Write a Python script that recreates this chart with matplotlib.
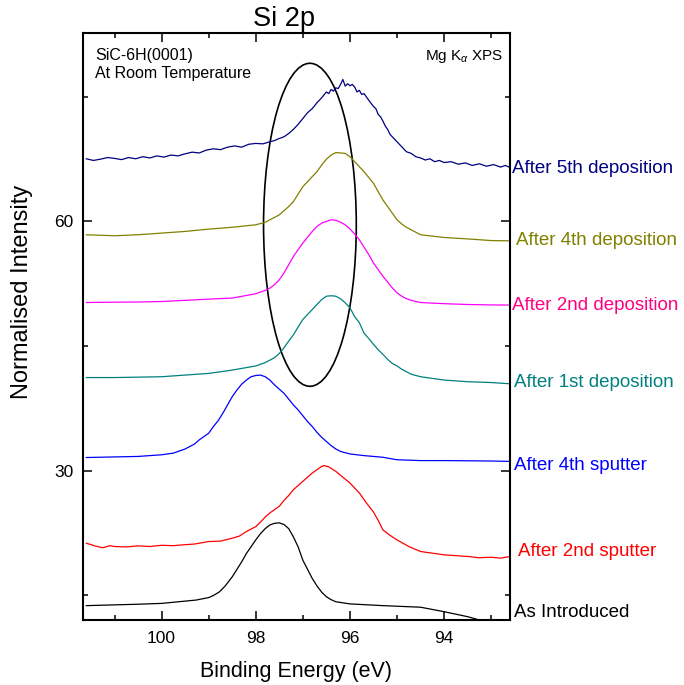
import matplotlib
matplotlib.use("Agg")
import matplotlib.pyplot as plt
from matplotlib.patches import Ellipse
from matplotlib.ticker import MultipleLocator
import matplotlib.transforms as mtransforms

plt.rcParams['font.family'] = ['Liberation Sans', 'DejaVu Sans']
plt.rcParams['mathtext.fontset'] = 'custom'
plt.rcParams['mathtext.rm'] = 'Liberation Sans'
plt.rcParams['mathtext.it'] = 'Liberation Sans:italic'

# ---------------- data (binding energy eV, normalised intensity) ----------------
e_dep5 = [101.6, 101.45, 101.3, 101.15, 101.0, 100.85, 100.7, 100.55, 100.4, 100.25, 100.1, 99.95,
          99.8, 99.65, 99.5, 99.35, 99.2, 99.05, 98.9, 98.75, 98.6, 98.45, 98.3, 98.15, 98.0, 97.85,
          97.7, 97.6, 97.5, 97.4, 97.3, 97.2, 97.1, 97.0, 96.9, 96.8, 96.7, 96.6, 96.5, 96.45, 96.4,
          96.35, 96.3, 96.25, 96.2, 96.15, 96.1, 96.05, 96.0, 95.95, 95.9, 95.85, 95.8, 95.75, 95.7,
          95.6, 95.5, 95.45, 95.4, 95.35, 95.3, 95.25, 95.2, 95.15, 95.1, 95.0, 94.9, 94.8, 94.7,
          94.6, 94.5, 94.4, 94.3, 94.2, 94.1, 94.0, 93.85, 93.7, 93.55, 93.4, 93.25, 93.1, 92.95,
          92.8, 92.7, 92.6]
i_dep5 = [67.55, 67.35, 67.5, 67.7, 67.6, 67.45, 67.7, 67.55, 67.8, 67.65, 67.9, 67.75,
          68.0, 67.9, 68.15, 68.35, 68.25, 68.6, 68.75, 68.65, 68.95, 69.1, 68.95, 69.3, 69.4, 69.35,
          69.6, 69.75, 70.0, 70.2, 70.6, 71.1, 71.7, 72.4, 73.1, 73.6, 74.3, 74.9, 75.6, 75.4, 75.9,
          75.7, 76.1, 76.0, 76.5, 77.1, 76.3, 76.6, 76.35, 76.5, 76.2, 75.6, 75.8, 75.3, 75.4,
          74.6, 73.85, 73.6, 72.9, 72.6, 72.1, 71.5, 71.1, 70.5, 70.2, 69.6, 69.0, 68.4, 68.2,
          67.8, 67.65, 67.4, 67.55, 67.2, 67.35, 67.1, 67.2, 66.9, 67.05, 66.75, 66.95, 66.65, 66.85,
          66.55, 66.75, 66.5]

e_dep4 = [101.6, 101.0, 100.5, 100.0, 99.5, 99.0, 98.5, 98.0, 97.8, 97.7, 97.6, 97.5, 97.4, 97.3,
          97.2, 97.1, 97.0, 96.9, 96.8, 96.7, 96.6, 96.5, 96.4, 96.3, 96.2, 96.1, 96.0, 95.9, 95.8,
          95.7, 95.6, 95.5, 95.4, 95.3, 95.2, 95.1, 95.0, 94.9, 94.8, 94.7, 94.6, 94.5, 94.0, 93.5,
          93.0, 92.6]
i_dep4 = [58.4, 58.28, 58.4, 58.6, 58.8, 59.08, 59.3, 59.6, 59.9, 60.2, 60.5, 60.8, 61.3, 61.8,
          62.4, 63.3, 64.2, 64.8, 65.4, 66.0, 66.8, 67.5, 68.0, 68.3, 68.25, 68.2, 67.8, 67.2, 66.6,
          66.0, 65.3, 64.6, 63.6, 62.6, 61.8, 61.0, 60.2, 59.7, 59.3, 59.0, 58.7, 58.4, 58.07, 57.9,
          57.7, 57.67]

e_dep2 = [101.6, 101.0, 100.5, 100.0, 99.5, 99.0, 98.5, 98.0, 97.8, 97.7, 97.6, 97.5, 97.4, 97.3,
          97.2, 97.1, 97.0, 96.9, 96.8, 96.7, 96.6, 96.5, 96.4, 96.3, 96.2, 96.1, 96.0, 95.9, 95.8,
          95.7, 95.6, 95.5, 95.4, 95.3, 95.2, 95.1, 95.0, 94.9, 94.8, 94.7, 94.5, 94.0, 93.5, 93.0,
          92.6]
i_dep2 = [50.24, 50.28, 50.3, 50.36, 50.5, 50.65, 50.77, 51.3, 51.7, 51.97, 52.4, 52.98, 53.8, 54.8,
          55.8, 56.6, 57.4, 58.1, 58.8, 59.4, 59.8, 60.0, 60.2, 60.15, 59.9, 59.6, 59.1, 58.5, 57.8,
          56.9, 56.0, 55.0, 54.2, 53.4, 52.7, 52.0, 51.4, 51.0, 50.7, 50.5, 50.24, 50.1, 50.0, 49.95,
          49.93]

e_dep1 = [101.6, 101.0, 100.5, 100.0, 99.5, 99.0, 98.5, 98.0, 97.9, 97.8, 97.7, 97.6, 97.5, 97.4,
          97.3, 97.2, 97.1, 97.0, 96.9, 96.8, 96.7, 96.6, 96.5, 96.4, 96.3, 96.2, 96.1, 96.0, 95.9,
          95.8, 95.7, 95.6, 95.5, 95.4, 95.3, 95.2, 95.1, 95.0, 94.9, 94.8, 94.7, 94.5, 94.0, 93.5,
          93.0, 92.6]
i_dep1 = [41.2, 41.2, 41.25, 41.3, 41.5, 41.7, 42.1, 42.6, 42.8, 43.0, 43.3, 43.6, 44.1, 44.8,
          45.6, 46.35, 47.3, 48.2, 48.8, 49.4, 50.0, 50.6, 51.0, 51.05, 51.0, 50.7, 50.2, 49.6, 48.55,
          47.8, 46.55, 45.9, 45.2, 44.55, 44.0, 43.4, 42.9, 42.6, 42.2, 41.9, 41.6, 41.3, 40.9, 40.7,
          40.6, 40.45]

e_sp4 = [101.6, 100.5, 100.0, 99.75, 99.6, 99.5, 99.4, 99.3, 99.2, 99.1, 99.0, 98.9, 98.8, 98.7,
         98.6, 98.5, 98.4, 98.3, 98.2, 98.1, 98.0, 97.9, 97.8, 97.7, 97.6, 97.5, 97.4, 97.3, 97.2,
         97.1, 97.0, 96.9, 96.8, 96.7, 96.6, 96.5, 96.4, 96.3, 96.2, 96.0, 95.7, 95.3, 95.0, 94.5,
         94.0, 93.0, 92.6]
i_sp4 = [31.57, 31.7, 31.9, 32.1, 32.4, 32.6, 32.9, 33.2, 33.7, 34.1, 34.5, 35.3, 36.0, 36.9,
         37.9, 38.9, 39.7, 40.4, 40.9, 41.3, 41.45, 41.5, 41.3, 40.9, 40.3, 39.8, 39.3, 38.6, 37.9,
         37.3, 36.6, 35.9, 35.3, 34.6, 34.0, 33.5, 33.0, 32.6, 32.3, 32.0, 31.8, 31.6, 31.3, 31.2,
         31.2, 31.15, 31.1]

e_sp2 = [101.6, 101.4, 101.25, 101.1, 101.0, 100.75, 100.5, 100.25, 100.0, 99.75, 99.55, 99.3,
         99.0, 98.75, 98.5, 98.35, 98.2, 98.0, 97.9, 97.8, 97.7, 97.6, 97.5, 97.4, 97.3, 97.2, 97.1,
         97.0, 96.9, 96.8, 96.7, 96.6, 96.55, 96.45, 96.3, 96.15, 96.0, 95.9, 95.8, 95.65, 95.5,
         95.4, 95.3, 95.15, 95.0, 94.75, 94.5, 94.25, 94.0, 93.75, 93.5, 93.25, 93.0, 92.8, 92.6]
i_sp2 = [21.25, 20.9, 20.7, 20.95, 20.85, 20.8, 20.93, 20.85, 21.0, 20.95, 21.05, 21.15,
         21.45, 21.5, 21.85, 22.1, 22.65, 23.25, 23.8, 24.4, 24.9, 25.3, 25.7, 26.4, 27.0, 27.7, 28.2,
         28.7, 29.2, 29.7, 30.1, 30.5, 30.6, 30.45, 29.9, 29.2, 28.5, 27.9, 27.3, 26.1, 25.0,
         24.0, 22.85, 22.2, 21.65, 20.85, 20.25, 20.05, 19.85, 19.75, 19.65, 19.5, 19.56, 19.45, 19.65]

e_intro = [101.6, 100.5, 100.0, 99.27, 99.0, 98.9, 98.77, 98.65, 98.5, 98.4, 98.3, 98.2, 98.0,
           97.9, 97.8, 97.7, 97.6, 97.5, 97.4, 97.3, 97.2, 97.1, 97.0, 96.9, 96.8, 96.7, 96.6,
           96.5, 96.4, 96.3, 96.0, 95.3, 94.5, 94.0, 93.5, 93.25, 92.6]
i_intro = [13.73, 13.9, 14.0, 14.4, 14.7, 14.95, 15.4, 16.1, 17.2, 18.1, 19.0, 20.0, 21.65,
           22.4, 23.0, 23.45, 23.65, 23.7, 23.5, 23.0, 22.0, 20.8, 19.2, 18.1, 17.0, 16.1, 15.35,
           14.8, 14.45, 14.2, 13.94, 13.73, 13.54, 13.0, 12.4, 12.0, 11.0]

series = [
    (e_dep5, i_dep5, '#000080'),
    (e_dep4, i_dep4, '#808000'),
    (e_dep2, i_dep2, '#FF00FF'),
    (e_dep1, i_dep1, '#008080'),
    (e_sp4, i_sp4, '#0000FF'),
    (e_sp2, i_sp2, '#FF0000'),
    (e_intro, i_intro, '#000000'),
]

labels = ['After 5th deposition', 'After 4th deposition', 'After 2nd deposition',
          'After 1st deposition', 'After 4th sputter', 'After 2nd sputter', 'As Introduced']
label_y = [66.35, 57.7, 49.85, 40.6, 30.55, 20.3, 12.9]
label_colors = ['#000080', '#808000', '#FF0080', '#008080', '#0000FF', '#FF0000', '#000000']

# ---------------- figure ----------------
fig = plt.figure(figsize=(6.84, 6.85), dpi=100)
ax = fig.add_axes([83/684, 1-620/685, (510-83)/684, (620-33)/685])

for e, i, c in series:
    ax.plot(e, i, color=c, lw=0.9)

ax.set_xlim(101.67, 92.6)
ax.set_ylim(12.0, 82.7)

ax.add_patch(Ellipse((96.85, 59.6), 1.97, 38.9, fill=False, ec='black', lw=1.2))

ax.xaxis.set_major_locator(MultipleLocator(2))
ax.xaxis.set_minor_locator(MultipleLocator(1))
ax.yaxis.set_major_locator(MultipleLocator(30))
ax.yaxis.set_minor_locator(MultipleLocator(15))
ax.tick_params(which='both', direction='in', top=True, right=True, width=1.1, labelsize=12.5)
ax.tick_params(which='major', length=6.5)
ax.tick_params(which='minor', length=3.6)
ax.tick_params(axis='y', pad=7)
ax.tick_params(axis='x', pad=8)
for s in ax.spines.values():
    s.set_linewidth(1.5)

trans = mtransforms.blended_transform_factory(ax.transAxes, ax.transData)
label_x = [1.0047, 1.0141, 1.0047, 1.0086, 1.0101, 1.0199, 1.0101]
for t, y, c, x in zip(labels, label_y, label_colors, label_x):
    ax.text(x, y, t, color=c, fontsize=13.5, transform=trans, ha='left', va='center', clip_on=False)

ax.text(0.029, 0.974, 'SiC-6H(0001)\nAt Room Temperature', transform=ax.transAxes,
        fontsize=11.5, va='top', ha='left', linespacing=1.2)
ax.text(0.985, 0.974, 'Mg K$_{\\alpha}$ XPS', transform=ax.transAxes, fontsize=11,
        va='top', ha='right')

fig.text(284/684, 1-19/685, 'Si 2p', fontsize=19.5, ha='center', va='center')
fig.text(296.5/684, 1-672/685, 'Binding Energy (eV)', fontsize=15.5, ha='center', va='center')
fig.text(22/684, 1-292/685, 'Normalised Intensity', fontsize=17, ha='center', va='center',
         rotation=90)

fig.savefig('out.png', dpi=100)
